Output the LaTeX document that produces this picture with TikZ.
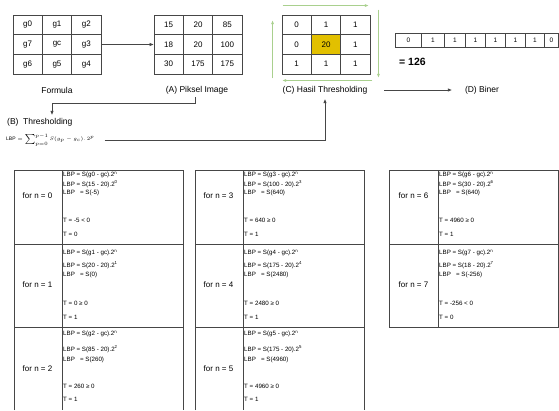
\documentclass[tikz,border=0pt]{standalone}
\usepackage{fontspec}
\setmainfont{Liberation Sans}
\usepackage{tikz}
\usetikzlibrary{arrows.meta, calc}

\definecolor{lineGray}{RGB}{70,70,70}
\definecolor{cellGold}{RGB}{226,192,0}
\definecolor{arrowGreen}{RGB}{169,208,142}

\begin{document}
\begin{tikzpicture}[x=1pt, y=-1pt,
  cell/.style={draw=lineGray, line width=0.9pt, minimum width=29.33pt, minimum height=19.67pt, inner sep=0pt, font=\fontsize{8}{9}\selectfont},
  bit/.style={draw=lineGray, line width=0.8pt, minimum height=14pt, inner sep=0pt, font=\fontsize{6.5}{7}\selectfont},
  lbl/.style={font=\fontsize{8.5}{10}\selectfont, inner sep=1pt},
  conn/.style={draw=lineGray, line width=0.8pt, -{Triangle[length=4pt, width=3pt]}},
  turn/.style={draw=arrowGreen, line width=0.9pt, -{Triangle[length=3.5pt, width=2.5pt]}},
  tab/.style={draw=lineGray, line width=1pt},
  line/.style={font=\fontsize{6.2}{7}\selectfont, anchor=west, inner sep=0pt},
  case/.style={font=\fontsize{8}{9}\selectfont, inner sep=0pt}]

  \useasboundingbox (0,0) rectangle (559,410);

  % Grid formula
  \foreach \t [count=\i from 0] in {g0,g1,g2,g7,gc,g3,g6,g5,g4} {
    \pgfmathtruncatemacro\row{\i/3}
    \pgfmathtruncatemacro\col{\i-3*\row}
    \node[cell] (f\i) at ({27.67+29.33*\col}, {24.83+19.67*\row}) {\t};
  }

  % Grid piksel
  \foreach \t [count=\i from 0] in {15,20,85,18,20,100,30,175,175} {
    \pgfmathtruncatemacro\row{\i/3}
    \pgfmathtruncatemacro\col{\i-3*\row}
    \node[cell] (p\i) at ({168.67+29.33*\col}, {24.83+19.67*\row}) {\t};
  }

  % Grid hasil thresholding (pusat kuning)
  \foreach \t/\f [count=\i from 0] in {0/white,1/white,1/white,0/white,20/cellGold,1/white,1/white,1/white,1/white} {
    \pgfmathtruncatemacro\row{\i/3}
    \pgfmathtruncatemacro\col{\i-3*\row}
    \node[cell, fill=\f] (t\i) at ({296.67+29.33*\col}, {24.83+19.67*\row}) {\t};
  }

  \draw[conn] (f5.east) -- (p3.west);

  % Panah hijau searah jarum jam
  \draw[turn] ($(t0.north west)+(1,-9)$) -- ($(t2.north east)+(-2,-9)$);
  \draw[turn] ($(t2.north east)+(8,-5)$) -- ($(t8.south east)+(8,3)$);
  \draw[turn] ($(t8.south east)+(2,6)$) -- ($(t6.south west)+(1,6)$);
  \draw[turn] ($(t6.south west)+(-9,4)$) -- ($(t0.north west)+(-9,6)$);

  % Biner
  \foreach \val/\xa/\xb [count=\i] in {0/395/421, 1/421/444, 1/444/465, 1/465/485, 1/485/505, 1/505/525, 1/525/544, 0/544/558} {
    \pgfmathsetmacro\w{\xb-\xa}
    \node[bit, minimum width=\w pt, anchor=west] (b\i) at (\xa,40) {\val};
  }
  \node[font=\bfseries\fontsize{10.5}{12}\selectfont, anchor=west, inner sep=0pt] (dec) at (399,62) {= 126};

  % Label
  \node[lbl] (formula) at (57,90) {Formula};
  \node[lbl] (piksel) at (197,90) {(A) Piksel Image};
  \node[lbl] (hasil) at (325,90) {(C) Hasil Thresholding};
  \node[lbl] (biner) at (482,90) {(D) Biner};
  \node[lbl, anchor=west] (thres) at (6,122) {(B)\ \ Thresholding};
  \node[font=\fontsize{5}{6}\selectfont, anchor=west, inner sep=0pt] (lbpf) at (6,140)
    {$\mathrm{LBP} = \sum_{p=0}^{p-1} S(g_p - g_c).\,2^p$};

  \draw[conn, shorten <=16pt, shorten >=12pt] (hasil.east) -- (biner.west);
  \draw[conn] ($(piksel.south)+(-2,2)$) -- ++(0,6) -| ($(thres.north west)+(46,-2)$);
  \draw[conn] ($(lbpf.east)+(10,0)$) -| ($(hasil.south)+(0,4)$);

  % Tabel kiri
  \draw[tab] (14,410) -- (14,170) -- (183,170) -- (183,410);
  \draw[tab] (62,170) -- (62,410);
  \draw[tab] (14,244) -- (183,244) (14,327) -- (183,327);
  % Tabel tengah
  \draw[tab] (195,410) -- (195,170) -- (364,170) -- (364,410);
  \draw[tab] (243,170) -- (243,410);
  \draw[tab] (195,244) -- (364,244) (195,327) -- (364,327);
  % Tabel kanan
  \draw[tab] (389,170) rectangle (558,327);
  \draw[tab] (438,170) -- (438,327);
  \draw[tab] (389,244) -- (558,244);

  % Isi tabel: n / garis / atas baris / baris / piksel / nilai / syarat / hasil
  \foreach \nn/\xd/\yt/\k/\pix/\val/\cond/\res in {
      0/62/170/0/15/-5/-5 < 0/0,
      1/62/244/1/20/0/0 ≥ 0/1,
      2/62/327/2/85/260/260 ≥ 0/1,
      3/243/170/0/100/640/640 ≥ 0/1,
      4/243/244/1/175/2480/2480 ≥ 0/1,
      5/243/327/2/175/4960/4960 ≥ 0/1,
      6/438/170/0/30/640/4960 ≥ 0/1,
      7/438/244/1/18/-256/-256 < 0/0} {
    \pgfmathsetmacro\yA{{5,9,7}[\k]}
    \pgfmathsetmacro\yB{{14,21,22}[\k]}
    \pgfmathsetmacro\yC{{23,31,33}[\k]}
    \pgfmathsetmacro\yD{{50,59,59}[\k]}
    \pgfmathsetmacro\yE{{64,73,72}[\k]}
    \pgfmathsetmacro\yF{{26,41,42}[\k]}
    \node[case] (for\nn) at ({\xd-24.5},{\yt+\yF}) {for n = \nn};
    \node[line] (la\nn) at ({\xd+1},{\yt+\yA}) {LBP = S(g\nn{} - gc).2\textsuperscript{n}};
    \node[line] (lb\nn) at ({\xd+1},{\yt+\yB}) {LBP = S(\pix{} - 20).2\textsuperscript{\nn}};
    \node[line] (lc\nn) at ({\xd+1},{\yt+\yC}) {LBP~~~= S(\val)};
    \node[line] (ld\nn) at ({\xd+1},{\yt+\yD}) {T = \cond};
    \node[line] (le\nn) at ({\xd+1},{\yt+\yE}) {T = \res};
  }
\end{tikzpicture}
\end{document}
